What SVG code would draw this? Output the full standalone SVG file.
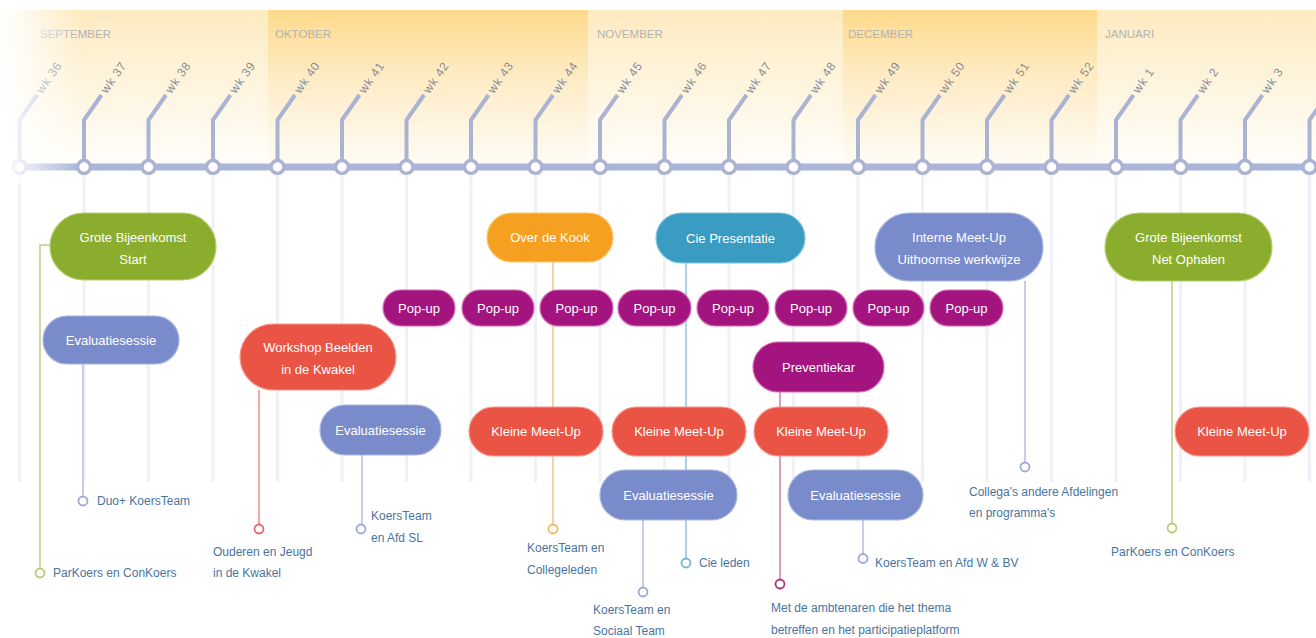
<svg xmlns="http://www.w3.org/2000/svg" width="1316" height="638" viewBox="0 0 1316 638">
<defs>
  <linearGradient id="gDark" x1="0" y1="0" x2="0" y2="1">
    <stop offset="0" stop-color="#fdd98a"/>
    <stop offset="0.35" stop-color="#feeac0"/>
    <stop offset="1" stop-color="#ffffff"/>
  </linearGradient>
  <linearGradient id="gLight" x1="0" y1="0" x2="0" y2="1">
    <stop offset="0" stop-color="#fdeac0"/>
    <stop offset="0.4" stop-color="#fef4dc"/>
    <stop offset="1" stop-color="#ffffff"/>
  </linearGradient>
  <linearGradient id="gFade" x1="0" y1="0" x2="1" y2="0">
    <stop offset="0" stop-color="#ffffff" stop-opacity="1"/>
    <stop offset="0.4" stop-color="#ffffff" stop-opacity="0.65"/>
    <stop offset="1" stop-color="#ffffff" stop-opacity="0"/>
  </linearGradient>
  <style>
    .month{font-family:"Liberation Sans",Arial,sans-serif;font-size:11.5px;fill:#b3b3b3;}
    .wk{font-family:"Liberation Sans",Arial,sans-serif;font-size:12px;fill:#868c9a;letter-spacing:0.8px;}
    .branch{fill:none;stroke:#aab3d2;stroke-width:4;stroke-linejoin:round;}
    .grid{stroke:#eff1f6;stroke-width:3;}
    .station{fill:#ffffff;stroke:#aab3d4;stroke-width:3.5;}
    .pill text{font-family:"Liberation Sans",Arial,sans-serif;font-size:13px;fill:#ffffff;text-anchor:middle;}
    .green{fill:#8bad2e;stroke:#b5cf6e;stroke-width:1.2;}
    .violet{fill:#7a8bcb;stroke:#a9b4e0;stroke-width:1.2;}
    .red{fill:#ea5444;stroke:#f59a8f;stroke-width:1.2;}
    .orange{fill:#f5a020;stroke:#fbc870;stroke-width:1.2;}
    .teal{fill:#3a9cc3;stroke:#84c4dc;stroke-width:1.2;}
    .mag{fill:#a3147f;stroke:#d56cb8;stroke-width:1.2;}
    .lbl{font-family:"Liberation Sans",Arial,sans-serif;font-size:12px;fill:#4a74a0;}
    .c{fill:#ffffff;stroke-width:1.8;}
  </style>
</defs>

<!-- month bands -->
<g id="months">
  <rect x="0" y="10" width="268" height="170" fill="url(#gLight)"/>
  <rect x="268" y="10" width="320" height="170" fill="url(#gDark)"/>
  <rect x="588" y="10" width="255" height="170" fill="url(#gLight)"/>
  <rect x="843" y="10" width="254" height="170" fill="url(#gDark)"/>
  <rect x="1097" y="10" width="219" height="170" fill="url(#gLight)"/>
  <text class="month" x="40" y="38">SEPTEMBER</text>
  <text class="month" x="275" y="38">OKTOBER</text>
  <text class="month" x="597" y="38">NOVEMBER</text>
  <text class="month" x="848" y="38">DECEMBER</text>
  <text class="month" x="1105" y="38">JANUARI</text>
</g>

<!-- faint gridlines -->
<g id="gridlines">
  <line class="grid" x1="19.5" y1="176" x2="19.5" y2="482"/>
  <line class="grid" x1="84" y1="176" x2="84" y2="482"/>
  <line class="grid" x1="148.5" y1="176" x2="148.5" y2="482"/>
  <line class="grid" x1="213" y1="176" x2="213" y2="482"/>
  <line class="grid" x1="277.5" y1="176" x2="277.5" y2="482"/>
  <line class="grid" x1="342" y1="176" x2="342" y2="482"/>
  <line class="grid" x1="406.5" y1="176" x2="406.5" y2="482"/>
  <line class="grid" x1="471" y1="176" x2="471" y2="482"/>
  <line class="grid" x1="535.5" y1="176" x2="535.5" y2="482"/>
  <line class="grid" x1="600" y1="176" x2="600" y2="482"/>
  <line class="grid" x1="664.5" y1="176" x2="664.5" y2="482"/>
  <line class="grid" x1="729" y1="176" x2="729" y2="482"/>
  <line class="grid" x1="793.5" y1="176" x2="793.5" y2="482"/>
  <line class="grid" x1="858" y1="176" x2="858" y2="482"/>
  <line class="grid" x1="922.5" y1="176" x2="922.5" y2="482"/>
  <line class="grid" x1="987" y1="176" x2="987" y2="482"/>
  <line class="grid" x1="1051.5" y1="176" x2="1051.5" y2="482"/>
  <line class="grid" x1="1116" y1="176" x2="1116" y2="482"/>
  <line class="grid" x1="1180.5" y1="176" x2="1180.5" y2="482"/>
  <line class="grid" x1="1245" y1="176" x2="1245" y2="482"/>
  <line class="grid" x1="1309.5" y1="176" x2="1309.5" y2="482"/>
</g>

<!-- timeline -->
<g id="timeline">
  <line x1="14" y1="167" x2="1316" y2="167" stroke="#aab5d8" stroke-width="7"/>
  <path class="branch" d="M19.5 167 V120 L37 95"/>
  <path class="branch" d="M84 167 V120 L101.5 95"/>
  <path class="branch" d="M148.5 167 V120 L166 95"/>
  <path class="branch" d="M213 167 V120 L230.5 95"/>
  <path class="branch" d="M277.5 167 V120 L295 95"/>
  <path class="branch" d="M342 167 V120 L359.5 95"/>
  <path class="branch" d="M406.5 167 V120 L424 95"/>
  <path class="branch" d="M471 167 V120 L488.5 95"/>
  <path class="branch" d="M535.5 167 V120 L553 95"/>
  <path class="branch" d="M600 167 V120 L617.5 95"/>
  <path class="branch" d="M664.5 167 V120 L682 95"/>
  <path class="branch" d="M729 167 V120 L746.5 95"/>
  <path class="branch" d="M793.5 167 V120 L811 95"/>
  <path class="branch" d="M858 167 V120 L875.5 95"/>
  <path class="branch" d="M922.5 167 V120 L940 95"/>
  <path class="branch" d="M987 167 V120 L1004.5 95"/>
  <path class="branch" d="M1051.5 167 V120 L1069 95"/>
  <path class="branch" d="M1116 167 V120 L1133.5 95"/>
  <path class="branch" d="M1180.5 167 V120 L1198 95"/>
  <path class="branch" d="M1245 167 V120 L1262.5 95"/>
  <path class="branch" d="M1309.5 167 V120 L1327 95"/>
  <g class="wk">
    <text transform="translate(39 92) rotate(-55)" y="4">wk 36</text>
    <text transform="translate(103.5 92) rotate(-55)" y="4">wk 37</text>
    <text transform="translate(168 92) rotate(-55)" y="4">wk 38</text>
    <text transform="translate(232.5 92) rotate(-55)" y="4">wk 39</text>
    <text transform="translate(297 92) rotate(-55)" y="4">wk 40</text>
    <text transform="translate(361.5 92) rotate(-55)" y="4">wk 41</text>
    <text transform="translate(426 92) rotate(-55)" y="4">wk 42</text>
    <text transform="translate(490.5 92) rotate(-55)" y="4">wk 43</text>
    <text transform="translate(555 92) rotate(-55)" y="4">wk 44</text>
    <text transform="translate(619.5 92) rotate(-55)" y="4">wk 45</text>
    <text transform="translate(684 92) rotate(-55)" y="4">wk 46</text>
    <text transform="translate(748.5 92) rotate(-55)" y="4">wk 47</text>
    <text transform="translate(813 92) rotate(-55)" y="4">wk 48</text>
    <text transform="translate(877.5 92) rotate(-55)" y="4">wk 49</text>
    <text transform="translate(942 92) rotate(-55)" y="4">wk 50</text>
    <text transform="translate(1006.5 92) rotate(-55)" y="4">wk 51</text>
    <text transform="translate(1071 92) rotate(-55)" y="4">wk 52</text>
    <text transform="translate(1135.5 92) rotate(-55)" y="4">wk 1</text>
    <text transform="translate(1200 92) rotate(-55)" y="4">wk 2</text>
    <text transform="translate(1264.5 92) rotate(-55)" y="4">wk 3</text>
  </g>
  <circle class="station" cx="19.5" cy="167" r="6.5"/>
  <circle class="station" cx="84" cy="167" r="6.5"/>
  <circle class="station" cx="148.5" cy="167" r="6.5"/>
  <circle class="station" cx="213" cy="167" r="6.5"/>
  <circle class="station" cx="277.5" cy="167" r="6.5"/>
  <circle class="station" cx="342" cy="167" r="6.5"/>
  <circle class="station" cx="406.5" cy="167" r="6.5"/>
  <circle class="station" cx="471" cy="167" r="6.5"/>
  <circle class="station" cx="535.5" cy="167" r="6.5"/>
  <circle class="station" cx="600" cy="167" r="6.5"/>
  <circle class="station" cx="664.5" cy="167" r="6.5"/>
  <circle class="station" cx="729" cy="167" r="6.5"/>
  <circle class="station" cx="793.5" cy="167" r="6.5"/>
  <circle class="station" cx="858" cy="167" r="6.5"/>
  <circle class="station" cx="922.5" cy="167" r="6.5"/>
  <circle class="station" cx="987" cy="167" r="6.5"/>
  <circle class="station" cx="1051.5" cy="167" r="6.5"/>
  <circle class="station" cx="1116" cy="167" r="6.5"/>
  <circle class="station" cx="1180.5" cy="167" r="6.5"/>
  <circle class="station" cx="1245" cy="167" r="6.5"/>
  <circle class="station" cx="1309.5" cy="167" r="6.5"/>
</g>
<rect x="0" y="0" width="80" height="185" fill="url(#gFade)"/>

<!-- connectors -->
<g id="connectors" fill="none" stroke-width="2">
  <path d="M50 245 H40 V568.5" stroke="#d3d7a2"/>
  <line x1="83" y1="364" x2="83" y2="496.5" stroke="#c9cbe8"/>
  <line x1="259" y1="390" x2="259" y2="524.5" stroke="#f2a9a3"/>
  <line x1="362" y1="455" x2="362" y2="524.5" stroke="#c9cbe8"/>
  <line x1="553" y1="262" x2="553" y2="524.5" stroke="#f7d3a0"/>
  <line x1="686" y1="263" x2="686" y2="558.5" stroke="#a8d3e2"/>
  <line x1="643" y1="520" x2="643" y2="587.5" stroke="#c9cbe8"/>
  <line x1="780" y1="392" x2="780" y2="579.5" stroke="#d79dc8"/>
  <line x1="863" y1="520" x2="863" y2="554" stroke="#c9cbe8"/>
  <line x1="1025" y1="281" x2="1025" y2="462.5" stroke="#c9cbe8"/>
  <line x1="1172" y1="281" x2="1172" y2="523.5" stroke="#d3d7a2"/>
  <circle class="c" cx="40" cy="573" r="4.5" stroke="#c2c872"/>
  <circle class="c" cx="83" cy="501" r="4.5" stroke="#9fa6d8"/>
  <circle class="c" cx="259" cy="529" r="4.5" stroke="#e3676a"/>
  <circle class="c" cx="361" cy="529" r="4.5" stroke="#9fa6d8"/>
  <circle class="c" cx="553" cy="529" r="4.5" stroke="#f2b75e"/>
  <circle class="c" cx="686" cy="563" r="4.5" stroke="#72b6cf"/>
  <circle class="c" cx="643" cy="592" r="4.5" stroke="#9fa6d8"/>
  <circle class="c" cx="780" cy="584" r="4.5" stroke="#b0307f"/>
  <circle class="c" cx="863" cy="558.5" r="4.5" stroke="#9fa6d8"/>
  <circle class="c" cx="1025" cy="467" r="4.5" stroke="#9fa6d8"/>
  <circle class="c" cx="1172" cy="528" r="4.5" stroke="#c2c872"/>
  <g stroke="none">
    <text class="lbl" x="53" y="577">ParKoers en ConKoers</text>
    <text class="lbl" x="97" y="505">Duo+ KoersTeam</text>
    <text class="lbl" x="213" y="556">Ouderen en Jeugd</text>
    <text class="lbl" x="213" y="577">in de Kwakel</text>
    <text class="lbl" x="371" y="520">KoersTeam</text>
    <text class="lbl" x="371" y="542">en Afd SL</text>
    <text class="lbl" x="527" y="552">KoersTeam en</text>
    <text class="lbl" x="527" y="574">Collegeleden</text>
    <text class="lbl" x="699" y="567">Cie leden</text>
    <text class="lbl" x="593" y="614">KoersTeam en</text>
    <text class="lbl" x="593" y="635">Sociaal Team</text>
    <text class="lbl" x="771" y="612">Met de ambtenaren die het thema</text>
    <text class="lbl" x="771" y="634">betreffen en het participatieplatform</text>
    <text class="lbl" x="875" y="567">KoersTeam en Afd W &amp; BV</text>
    <text class="lbl" x="969" y="496">Collega's andere Afdelingen</text>
    <text class="lbl" x="969" y="517">en programma's</text>
    <text class="lbl" x="1111" y="556">ParKoers en ConKoers</text>
  </g>
</g>

<!-- nodes -->
<g id="n-grote-start" class="pill">
  <rect class="green" x="50" y="213" width="166" height="67" rx="33.5"/>
  <text x="133" y="241.5">Grote Bijeenkomst</text>
  <text x="133" y="264">Start</text>
</g>
<g id="n-eval-1" class="pill">
  <rect class="violet" x="43" y="316" width="136" height="48" rx="24"/>
  <text x="111" y="344.5">Evaluatiesessie</text>
</g>
<g id="n-workshop" class="pill">
  <rect class="red" x="240" y="324" width="156" height="66" rx="33"/>
  <text x="318" y="351.5">Workshop Beelden</text>
  <text x="318" y="374">in de Kwakel</text>
</g>
<g id="n-eval-2" class="pill">
  <rect class="violet" x="320" y="405" width="121" height="50" rx="25"/>
  <text x="380.5" y="434.5">Evaluatiesessie</text>
</g>
<g id="n-over-de-kook" class="pill">
  <rect class="orange" x="487" y="213" width="126" height="49" rx="24.5"/>
  <text x="550" y="242">Over de Kook</text>
</g>
<g id="n-cie-presentatie" class="pill">
  <rect class="teal" x="656" y="213" width="149" height="50" rx="25"/>
  <text x="730.5" y="242.5">Cie Presentatie</text>
</g>
<g id="n-interne" class="pill">
  <rect class="violet" x="875" y="213" width="168" height="68" rx="34"/>
  <text x="959" y="241.5">Interne Meet-Up</text>
  <text x="959" y="264">Uithoornse werkwijze</text>
</g>
<g id="n-grote-ophalen" class="pill">
  <rect class="green" x="1105" y="213" width="167" height="68" rx="34"/>
  <text x="1188.5" y="241.5">Grote Bijeenkomst</text>
  <text x="1188.5" y="264">Net Ophalen</text>
</g>
<g id="n-popup-1" class="pill"><rect class="mag" x="383" y="290" width="72" height="36" rx="18"/><text x="419" y="312.5">Pop-up</text></g>
<g id="n-popup-2" class="pill"><rect class="mag" x="462" y="290" width="72" height="36" rx="18"/><text x="498" y="312.5">Pop-up</text></g>
<g id="n-popup-3" class="pill"><rect class="mag" x="540" y="290" width="73" height="36" rx="18"/><text x="576.5" y="312.5">Pop-up</text></g>
<g id="n-popup-4" class="pill"><rect class="mag" x="618" y="290" width="73" height="36" rx="18"/><text x="654.5" y="312.5">Pop-up</text></g>
<g id="n-popup-5" class="pill"><rect class="mag" x="697" y="290" width="72" height="36" rx="18"/><text x="733" y="312.5">Pop-up</text></g>
<g id="n-popup-6" class="pill"><rect class="mag" x="775" y="290" width="72" height="36" rx="18"/><text x="811" y="312.5">Pop-up</text></g>
<g id="n-popup-7" class="pill"><rect class="mag" x="853" y="290" width="71" height="36" rx="18"/><text x="888.5" y="312.5">Pop-up</text></g>
<g id="n-popup-8" class="pill"><rect class="mag" x="930" y="290" width="73" height="36" rx="18"/><text x="966.5" y="312.5">Pop-up</text></g>
<g id="n-preventiekar" class="pill">
  <rect class="mag" x="753" y="342" width="131" height="50" rx="25"/>
  <text x="818.5" y="371.5">Preventiekar</text>
</g>
<g id="n-kleine-1" class="pill">
  <rect class="red" x="469" y="407" width="134" height="49" rx="24.5"/>
  <text x="536" y="436">Kleine Meet-Up</text>
</g>
<g id="n-kleine-2" class="pill">
  <rect class="red" x="612" y="407" width="134" height="49" rx="24.5"/>
  <text x="679" y="436">Kleine Meet-Up</text>
</g>
<g id="n-kleine-3" class="pill">
  <rect class="red" x="754" y="407" width="134" height="49" rx="24.5"/>
  <text x="821" y="436">Kleine Meet-Up</text>
</g>
<g id="n-kleine-4" class="pill">
  <rect class="red" x="1175" y="407" width="134" height="49" rx="24.5"/>
  <text x="1242" y="436">Kleine Meet-Up</text>
</g>
<g id="n-eval-3" class="pill">
  <rect class="violet" x="600" y="470" width="137" height="50" rx="25"/>
  <text x="668.5" y="499.5">Evaluatiesessie</text>
</g>
<g id="n-eval-4" class="pill">
  <rect class="violet" x="788" y="470" width="135" height="50" rx="25"/>
  <text x="855.5" y="499.5">Evaluatiesessie</text>
</g>
</svg>
